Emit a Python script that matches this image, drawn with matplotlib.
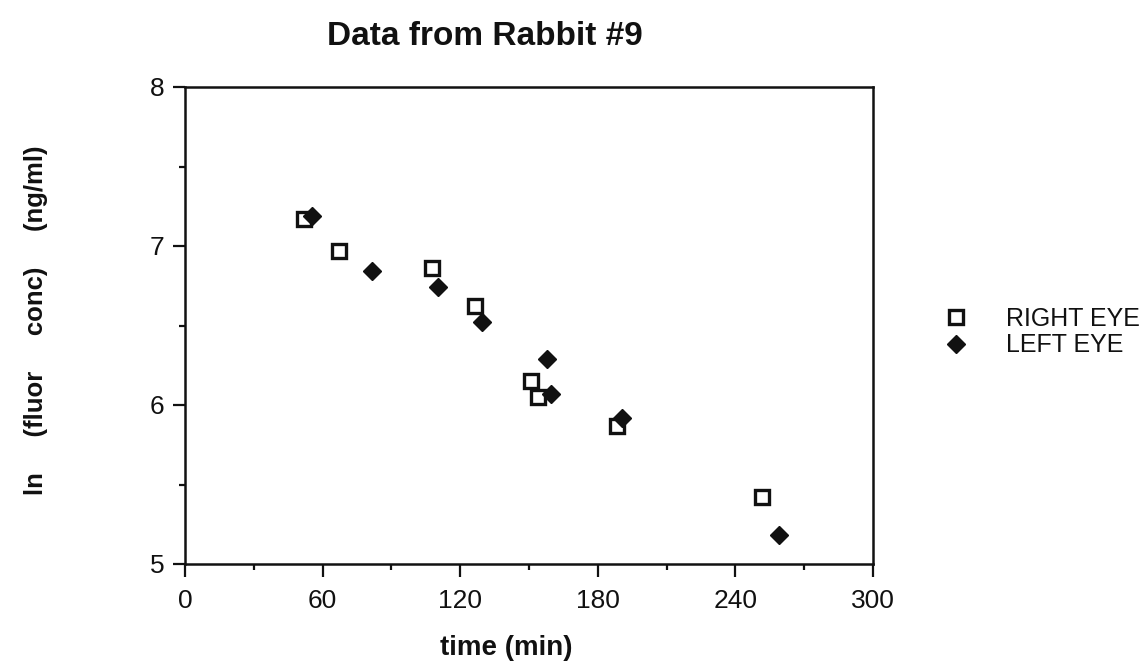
import matplotlib
matplotlib.use("Agg")
import matplotlib.pyplot as plt
from matplotlib.ticker import MultipleLocator

plt.rcParams['font.family'] = ['Liberation Sans', 'DejaVu Sans']

# datos
t_right = [51.9, 67.0, 107.8, 126.6, 150.7, 153.9, 188.2, 251.6]
ln_right = [7.17, 6.97, 6.86, 6.62, 6.15, 6.05, 5.87, 5.42]

t_left = [55.2, 81.7, 110.4, 129.4, 157.8, 159.6, 190.7, 259.1]
ln_left = [7.19, 6.84, 6.74, 6.52, 6.29, 6.07, 5.92, 5.18]

x_ticks = [0, 60, 120, 180, 240, 300]
y_ticks = [5, 6, 7, 8]

fig = plt.figure(figsize=(11.46, 6.64), dpi=100)
ax = fig.add_axes([185 / 1146, 1 - 564 / 664, (873 - 185) / 1146, (564 - 87) / 664])

ink = '#111111'

# ojo izquierdo (rombos) y ojo derecho (cuadrados)
ax.plot(t_left, ln_left, linestyle='none', marker='D', markersize=9.5,
        color=ink, label='LEFT EYE', zorder=3)
ax.plot(t_right, ln_right, linestyle='none', marker='s', markersize=10,
        markerfacecolor='none', markeredgecolor=ink, markeredgewidth=2.4,
        label='RIGHT EYE', zorder=4)

ax.set_xlim(0, 300)
ax.set_ylim(5, 8)
ax.set_xticks(x_ticks)
ax.set_yticks(y_ticks)
ax.xaxis.set_minor_locator(MultipleLocator(30))
ax.yaxis.set_minor_locator(MultipleLocator(0.5))

for s in ax.spines.values():
    s.set_linewidth(1.8)
    s.set_color(ink)

ax.tick_params(which='major', direction='out', length=9, width=1.6,
               labelsize=19, colors=ink, top=False, right=False)
ax.tick_params(axis='x', which='major', pad=9)
ax.tick_params(axis='y', which='major', pad=6)
ax.tick_params(which='minor', direction='out', length=4.5, width=1.6,
               colors=ink, top=False, right=False)

# textos
fig.text(0.423, 0.932, 'Data from Rabbit #9', ha='center', va='baseline',
         fontsize=24, fontweight='bold', color=ink)
fig.text(0.4415, 0.014, 'time (min)', ha='center', va='baseline',
         fontsize=20, fontweight='bold', color=ink)
fig.text(0.031, 0.518, 'ln     (fluor     conc)     (ng/ml)', ha='center',
         va='center', rotation=90, fontsize=18.5, fontweight='bold', color=ink)

handles, labels = ax.get_legend_handles_labels()
leg = fig.legend(handles[::-1], labels[::-1], loc='center left',
                 bbox_to_anchor=(0.823, 0.5), frameon=False, fontsize=18,
                 handlelength=1.0, handletextpad=1.5, labelspacing=0.1,
                 borderpad=0, borderaxespad=0)
for txt in leg.get_texts():
    txt.set_color(ink)

plt.savefig('out.png', dpi=100)
